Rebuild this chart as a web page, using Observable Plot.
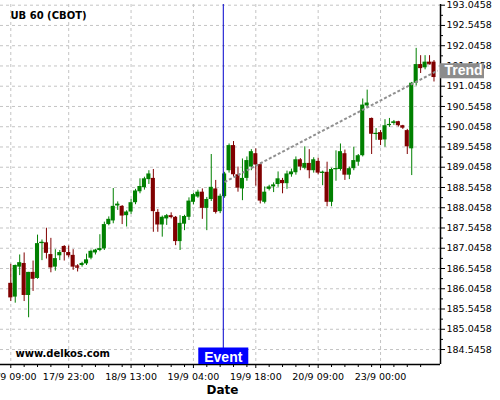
<!DOCTYPE html>
<html><head><meta charset="utf-8">
<script src="https://cdn.jsdelivr.net/npm/d3@7"></script>
<script src="https://cdn.jsdelivr.net/npm/@observablehq/plot@0.6"></script>
<style>
body{margin:0;background:#fff;}
#chart svg{display:block;}
</style>
</head><body><div id="chart"></div>
<script>
// ---- data (hourly candles, index 0..95) ----
const openV = [186.18,185.84,186.58,186.67,185.88,186.45,186.30,187.16,187.18,186.89,186.58,186.86,187.09,186.94,186.87,186.61,186.62,186.66,186.80,186.93,
186.99,187.03,187.63,187.72,188.09,188.08,187.85,187.94,188.17,188.44,188.54,188.74,188.77,187.93,187.62,187.77,187.85,187.81,187.21,187.64,
187.81,188.18,188.31,188.43,188.03,188.25,188.51,187.95,188.32,188.96,189.58,188.86,188.51,188.77,189.05,189.38,189.11,188.18,188.50,188.56,
188.62,188.72,188.64,188.86,188.91,189.23,189.02,189.14,188.96,189.19,188.90,188.92,188.18,188.99,188.99,189.38,188.85,189.01,189.17,189.33,
190.56,190.25,189.86,189.90,189.72,190.08,190.13,190.17,190.07,189.95,189.50,191.12,191.58,191.50,191.64,191.64];
const highV = [186.65,186.63,186.88,186.93,186.45,186.73,187.37,187.25,187.54,187.29,187.01,186.99,187.11,187.10,187.01,186.64,186.70,186.90,187.00,187.02,
187.38,187.69,187.82,188.52,188.19,188.10,187.97,188.25,188.50,188.76,188.80,188.96,188.99,188.00,187.84,187.88,187.92,187.83,187.85,187.86,
188.29,188.40,188.48,188.51,188.30,189.36,188.72,188.38,188.92,189.62,189.68,189.05,189.25,189.30,189.48,189.50,189.13,188.56,188.60,188.66,
188.93,188.77,188.95,189.00,189.30,189.26,189.55,189.48,189.28,189.27,188.95,189.17,189.02,189.45,189.62,189.47,189.05,189.54,189.36,190.73,
190.95,190.26,190.00,189.95,190.22,190.25,190.20,190.18,190.08,189.98,191.14,191.98,191.80,191.80,191.80,191.68];
const lowV = [185.73,185.69,186.37,185.73,185.33,185.98,186.28,186.74,186.78,186.44,186.48,186.74,186.73,186.81,186.50,186.46,186.58,186.62,186.76,186.88,
186.96,186.99,187.60,187.65,187.98,187.63,187.57,187.88,188.12,188.39,188.48,188.62,187.44,187.44,187.32,187.61,187.77,187.11,186.99,187.48,
187.73,188.12,188.28,187.76,187.48,188.20,187.89,187.90,188.28,188.90,188.80,188.43,188.22,188.70,188.96,188.58,188.14,188.14,188.46,188.42,
188.55,188.39,188.50,188.80,188.85,188.96,188.98,188.76,188.90,188.86,188.59,188.07,188.07,188.70,188.95,188.72,188.74,188.96,189.07,189.30,
190.50,189.36,189.71,189.58,189.54,190.03,190.08,190.04,189.98,189.36,188.84,191.05,191.36,191.45,191.57,191.15];
const closeV = [185.82,186.62,186.69,185.88,186.45,186.28,187.16,187.19,186.92,186.56,186.79,186.94,186.94,186.86,186.58,186.58,186.67,186.76,186.97,187.00,
187.03,187.63,187.76,188.08,188.13,187.84,187.94,188.17,188.46,188.57,188.76,188.88,187.95,187.62,187.81,187.85,187.83,187.21,187.66,187.83,
188.21,188.37,188.43,188.03,188.25,188.55,187.93,188.33,188.88,189.58,188.86,188.53,188.77,189.21,189.43,189.10,188.21,188.43,188.56,188.61,
188.76,188.64,188.88,188.93,189.23,189.05,189.14,188.96,189.23,188.90,188.92,188.18,188.99,189.01,189.43,188.85,189.01,189.21,189.33,190.58,
190.63,189.86,189.88,189.71,190.07,190.10,190.16,190.07,190.01,189.55,191.12,191.58,191.48,191.64,191.60,191.26];

const xTickIdx = [0,13,27,41,55,69,83];
const xTickLabels = ["17/9 09:00","17/9 23:00","18/9 13:00","19/9 04:00","19/9 18:00","20/9 09:00","23/9 00:00"];
const yTickValues = [184.5458,185.0458,185.5458,186.0458,186.5458,187.0458,187.5458,188.0458,188.5458,189.0458,189.5458,190.0458,190.5458,191.0458,191.5458,192.0458,192.5458,193.0458];
const trendIdx = [48, 95.8];
const trendVal = [188.68, 191.43];
const eventIdx = 47.7;
const titleText = "UB 60 (CBOT)";
const watermark = "www.delkos.com";

// ---- layout ----
const W = 500, H = 400, mL = 0, mR = 60, mT = 4, mB = 36;
const xDomain = [-2.31, 96.46];
const yDomain = [184.176, 193.063];
const pxPerIdx = (W - mL - mR) / (xDomain[1] - xDomain[0]);
const pxPerUnit = (H - mT - mB) / (yDomain[1] - yDomain[0]);

const candles = openV.map((o, i) => ({i, o, h: highV[i], l: lowV[i], c: closeV[i]}));
const col = d => d.c >= d.o ? "#008000" : "#800000";
const trend = trendIdx.map((i, k) => ({i, v: trendVal[k]}));

const yMinor = yTickValues.slice(0, -1).map(v => v + 0.25);
const xMinor = [];
xTickIdx.forEach((m, k) => {
  const next = k + 1 < xTickIdx.length ? xTickIdx[k + 1] : 96;
  for (let s = m + 3; s < next - 1; s += 3) xMinor.push(s);
});
const grid = {stroke: "#c4c4c4", strokeOpacity: 1, strokeDasharray: "3,3"};

const chart = Plot.plot({
  width: W, height: H,
  marginLeft: mL, marginRight: mR, marginTop: mT, marginBottom: mB,
  style: {fontFamily: "DejaVu Sans", fontSize: "9.5px", color: "#000", background: "#fff"},
  x: {type: "linear", domain: xDomain},
  y: {domain: yDomain},
  color: {type: "identity"},
  marks: [
    Plot.gridY(yTickValues, grid),
    Plot.gridX(xTickIdx, grid),
    Plot.ruleX(candles, {x: "i", y1: "l", y2: "h", stroke: col, strokeWidth: 1}),
    Plot.rect(candles, {x1: d => d.i - 0.46, x2: d => d.i + 0.46, y1: d => Math.min(d.o, d.c), y2: d => Math.max(d.o, d.c), fill: col}),
    Plot.ruleY(candles.filter(d => Math.abs(d.o - d.c) < 0.04), {x1: d => d.i - 0.46, x2: d => d.i + 0.46, y: "c", stroke: col, strokeWidth: 1.2}),
    Plot.line(trend, {x: "i", y: "v", stroke: "#909090", strokeWidth: 2, strokeDasharray: "3,2", strokeLinecap: "butt"}),
    Plot.ruleX([eventIdx], {stroke: "#0000cc", strokeWidth: 1}),
    Plot.ruleY([yDomain[0]], {stroke: "#000", strokeWidth: 1.5}),
    Plot.ruleX([xDomain[1]], {stroke: "#000", strokeWidth: 1.5}),
    Plot.axisY(yTickValues, {anchor: "right", tickSize: 4, tickPadding: 2, tickFormat: d => d.toFixed(4), label: null, fontSize: 9.5}),
    Plot.axisY(yMinor, {anchor: "right", tickSize: 2, tickFormat: () => "", label: null}),
    Plot.axisX(xTickIdx, {anchor: "bottom", tickSize: 4, tickPadding: 5, tickFormat: d => xTickLabels[xTickIdx.indexOf(d)], label: null, fontSize: 9.5}),
    Plot.axisX(xMinor, {anchor: "bottom", tickSize: 3, tickFormat: () => "", label: null}),
    Plot.ruleY([trendVal[1]], {x1: xDomain[1], x2: xDomain[1] + 44 / pxPerIdx, stroke: "#8c8c8c", strokeWidth: 15}),
    Plot.text([trendVal[1]], {y: d => d, frameAnchor: "right", textAnchor: "start", dx: 4, text: () => "Trend", fill: "#fff", fontWeight: "bold", fontSize: 14, fontFamily: "Liberation Sans"}),
    Plot.ruleX([eventIdx], {y1: yDomain[0], y2: yDomain[0] + 16.5 / pxPerUnit, stroke: "#0000ff", strokeWidth: 50}),
    Plot.text([eventIdx], {x: d => d, frameAnchor: "bottom", lineAnchor: "top", dy: -12.3, text: () => "Event", fill: "#fff", fontWeight: "bold", fontSize: 14, fontFamily: "Liberation Sans"}),
    Plot.text([titleText], {frameAnchor: "top-left", lineAnchor: "top", dx: 10, dy: 7.7, text: d => d, fontWeight: "bold", fontSize: 10, fill: "#000"}),
    Plot.text([watermark], {frameAnchor: "bottom-left", lineAnchor: "top", dx: 15, dy: -14.3, text: d => d, fontWeight: "bold", fontSize: 10, fill: "#000"}),
    Plot.text(["Date"], {frameAnchor: "bottom", lineAnchor: "top", dx: 2, dy: 21, text: d => d, fontWeight: "bold", fontSize: 12, fill: "#000"})
  ]
});
document.getElementById("chart").appendChild(chart);
</script>
</body></html>
